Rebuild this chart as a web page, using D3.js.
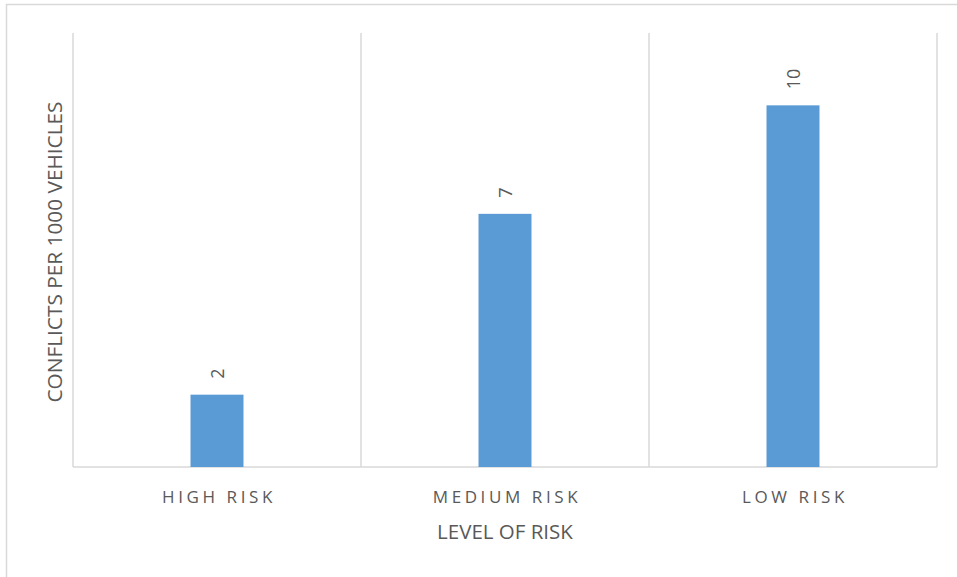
<!DOCTYPE html>
<html>
<head>
<meta charset="utf-8">
<script src="https://cdn.jsdelivr.net/npm/d3@7"></script>
<style>
  html, body { margin: 0; padding: 0; background: #fff; }
  svg { display: block; }
  text { font-family: "Open Sans", "Noto Sans", sans-serif; fill: #595959; }
</style>
</head>
<body>
<svg id="chart" width="957" height="577"></svg>
<script>
// Conflicts per 1000 vehicles by level of risk
const categories = ["HIGH RISK", "MEDIUM RISK", "LOW RISK"];
const conflicts = [2, 7, 10];
const yMax = 12;
const xTitle = "LEVEL OF RISK";
const yTitle = "CONFLICTS PER 1000 VEHICLES";

const svg = d3.select("#chart");
const W = 957, H = 577;
const margin = { left: 73, top: 33 };
const plotRight = 937, plotBottom = 467;

// outer chart frame
svg.append("rect")
  .attr("x", 6.5).attr("y", 4.5)
  .attr("width", W + 10).attr("height", H + 10)
  .attr("fill", "none").attr("stroke", "#D9D9D9").attr("stroke-width", 1.5);

const x = d3.scaleBand().domain(categories).range([margin.left, plotRight]).padding(0);
const y = d3.scaleLinear().domain([0, yMax]).range([plotBottom, margin.top]);

// vertical category separators
const edges = categories.map(c => x(c)).concat([x(categories[categories.length - 1]) + x.bandwidth()]);
svg.append("g").selectAll("line").data(edges).join("line")
  .attr("x1", d => d).attr("x2", d => d)
  .attr("y1", y(yMax)).attr("y2", plotBottom)
  .attr("stroke", "#D9D9D9").attr("stroke-width", 1.5);

// baseline axis
svg.append("line")
  .attr("x1", margin.left).attr("x2", plotRight)
  .attr("y1", plotBottom).attr("y2", plotBottom)
  .attr("stroke", "#D9D9D9").attr("stroke-width", 1.5);

const barW = x.bandwidth() * 0.184;
const data = categories.map((c, i) => ({ c, v: conflicts[i] }));

svg.append("g").selectAll("rect").data(data).join("rect")
  .attr("x", d => x(d.c) + x.bandwidth() / 2 - barW / 2)
  .attr("width", barW)
  .attr("y", d => y(d.v))
  .attr("height", d => y(0) - y(d.v))
  .attr("fill", "#5B9BD5");

// value labels, rotated
svg.append("g").selectAll("text").data(data).join("text")
  .attr("transform", d => `translate(${x(d.c) + x.bandwidth() / 2},${y(d.v) - 16}) rotate(-90)`)
  .attr("text-anchor", "start")
  .attr("dominant-baseline", "central")
  .attr("font-size", 18)
  .text(d => d.v);

// category labels
svg.append("g").selectAll("text").data(categories).join("text")
  .attr("x", d => x(d) + x.bandwidth() / 2 + 2)
  .attr("y", 503)
  .attr("text-anchor", "middle")
  .attr("font-size", 17)
  .attr("letter-spacing", "3.6px")
  .text(d => d);

// axis titles
svg.append("text")
  .attr("x", (margin.left + plotRight) / 2)
  .attr("y", 539)
  .attr("text-anchor", "middle")
  .attr("font-size", 20.5)
  .text(xTitle);

svg.append("text")
  .attr("transform", `translate(62,252) rotate(-90)`)
  .attr("text-anchor", "middle")
  .attr("font-size", 20.8)
  .text(yTitle);
</script>
</body>
</html>
